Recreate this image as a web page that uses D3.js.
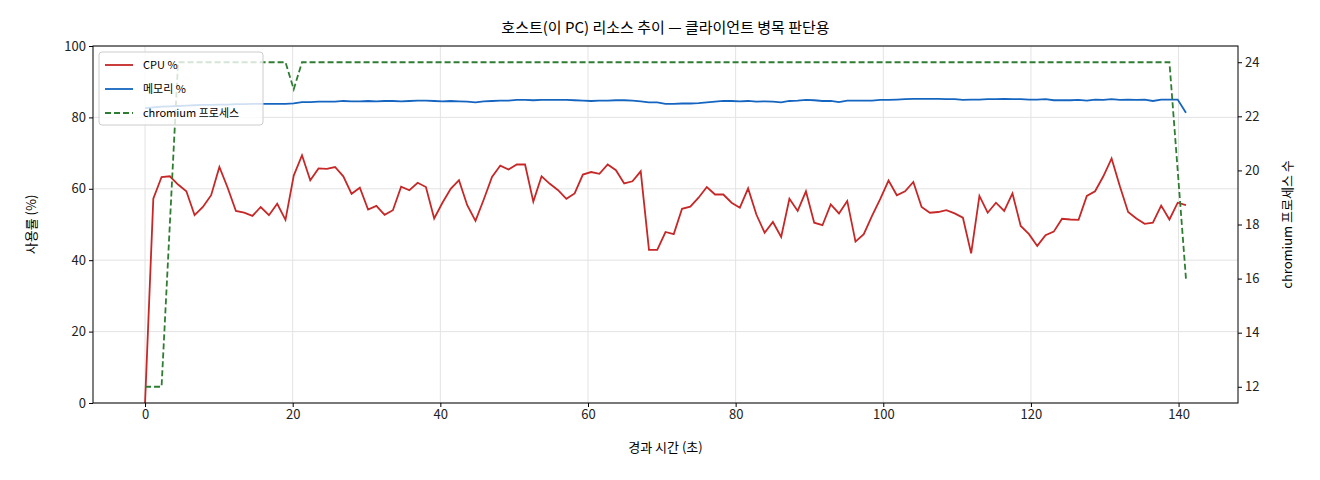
<!DOCTYPE html>
<html><head><meta charset="utf-8">
<script src="https://cdn.jsdelivr.net/npm/d3@7"></script>
<style>body{margin:0;background:#fff}text{font-family:"Noto Sans CJK KR","DejaVu Sans",sans-serif}</style>
</head><body><svg id="c" width="1320" height="480"></svg>
<script>
const cpu=[0,57.2,63.3,63.5,61.2,59.3,52.6,54.9,58.2,66.1,60.3,53.8,53.3,52.4,54.9,52.6,55.8,51.3,63.7,69.4,62.4,65.7,65.6,66.1,63.5,58.6,60.3,54.2,55.2,52.7,54.0,60.6,59.6,61.7,60.5,51.7,56.1,60,62.4,55.4,51.0,57.0,63.3,66.5,65.4,66.8,66.8,56.4,63.5,61.4,59.6,57.2,58.7,64.0,64.7,64.2,66.8,65.2,61.5,62.1,64.9,
42.9,42.9,47.9,47.3,54.4,55.0,57.5,60.5,58.4,58.4,56.1,54.7,60.1,52.8,47.7,50.7,46.5,57.2,53.8,59.3,50.5,49.8,55.6,53.1,56.6,45.2,47.3,52.4,57.2,62.3,58.2,59.3,61.9,54.9,53.3,53.5,54.0,53.1,51.9,41.9,58.0,53.3,56.1,53.8,58.7,49.6,47.3,44.0,47.0,48.0,51.6,51.4,51.3,58.0,59.3,63.5,68.5,60.7,53.5,51.7,50.2,50.5,55.3,51.4,56.1,55.4];
const mem=[82.6,82.8,83.0,83.1,83.2,83.3,83.4,83.5,83.5,83.6,83.6,83.7,83.7,83.8,83.8,83.8,83.8,83.8,83.9,84.3,84.3,84.4,84.4,84.4,84.6,84.5,84.5,84.6,84.5,84.6,84.6,84.5,84.6,84.7,84.7,84.6,84.5,84.6,84.5,84.4,84.2,84.5,84.6,84.7,84.7,84.9,84.9,84.8,84.9,84.9,84.9,84.9,84.8,84.7,84.6,84.7,84.7,84.8,84.8,84.7,84.5,84.2,84.2,83.8,83.8,83.9,83.9,84.0,84.2,84.4,84.6,84.6,84.5,84.6,84.4,84.5,84.4,84.2,84.6,84.7,84.9,84.8,84.6,84.6,84.3,84.7,84.7,84.7,84.7,84.9,84.9,85.0,85.1,85.2,85.2,85.2,85.2,85.1,85.1,84.9,85.0,85.0,85.1,85.1,85.2,85.1,85.1,85.0,85.0,85.1,84.8,84.8,84.8,84.9,84.7,85.0,84.9,85.1,84.9,85.0,84.9,85.0,84.6,85.0,85.0,85.0,81.3];
const chrom=[12,12,12,18,24,24,24,24,24,24,24,24,24,24,24,24,24,24,23,24,24,24,24,24,24,24,24,24,24,24,24,24,24,24,24,24,24,24,24,24,24,24,24,24,24,24,24,24,24,24,24,24,24,24,24,24,24,24,24,24,24,24,24,24,24,24,24,24,24,24,24,24,24,24,24,24,24,24,24,24,24,24,24,24,24,24,24,24,24,24,24,24,24,24,24,24,24,24,24,24,24,24,24,24,24,24,24,24,24,24,24,24,24,24,24,24,24,24,24,24,24,24,24,24,24,20,16];
const xTicks=[0,20,40,60,80,100,120,140], yTicks=[0,20,40,60,80,100], y2Ticks=[12,14,16,18,20,22,24];
const tEnd=141;
const svg=d3.select("#c");
const L=93,R=1238,T=46,B=403;
const x=d3.scaleLinear().domain([-7.05,148.05]).range([L,R]);
const y=d3.scaleLinear().domain([0,100]).range([B,T]);
const y2=d3.scaleLinear().domain([11.4,24.6]).range([B,T]);
const g=svg.append("g");
g.selectAll(".gx").data(xTicks).join("line").attr("x1",d=>x(d)).attr("x2",d=>x(d)).attr("y1",T).attr("y2",B).attr("stroke","#e3e3e3");
g.selectAll(".gy").data(yTicks).join("line").attr("y1",d=>y(d)).attr("y2",d=>y(d)).attr("x1",L).attr("x2",R).attr("stroke","#e3e3e3");
const line=(ys,sc)=>d3.line().x((d,i)=>x(i*tEnd/(ys.length-1))).y(d=>sc(d))(ys);
svg.append("path").attr("d",line(cpu,y)).attr("fill","none").attr("stroke","#c62828").attr("stroke-width",1.8);
svg.append("path").attr("d",line(mem,y)).attr("fill","none").attr("stroke","#1565c0").attr("stroke-width",1.8);
svg.append("path").attr("d",line(chrom,y2)).attr("fill","none").attr("stroke","#2e7d32").attr("stroke-width",1.8).attr("stroke-dasharray","6,3");
const ax=svg.append("g").attr("transform",`translate(0,${B})`).call(d3.axisBottom(x).tickValues(xTicks).tickSize(4).tickSizeOuter(0));
const ay=svg.append("g").attr("transform",`translate(${L},0)`).call(d3.axisLeft(y).tickValues(yTicks).tickSize(4).tickSizeOuter(0));
const ay2=svg.append("g").attr("transform",`translate(${R},0)`).call(d3.axisRight(y2).tickValues(y2Ticks).tickSize(4).tickSizeOuter(0));
[ax,ay,ay2].forEach(a=>{a.select(".domain").remove();a.selectAll("text").attr("font-size",13).attr("fill","#222");});
svg.append("rect").attr("x",L).attr("y",T).attr("width",R-L).attr("height",B-T).attr("fill","none").attr("stroke","#000").attr("stroke-width",1);
svg.append("text").attr("x",(L+R)/2).attr("y",33).attr("text-anchor","middle").attr("font-size",15).text("호스트(이 PC) 리소스 추이 — 클라이언트 병목 판단용");
svg.append("text").attr("x",(L+R)/2).attr("y",452).attr("text-anchor","middle").attr("font-size",13).text("경과 시간 (초)");
svg.append("text").attr("transform",`translate(36,${(T+B)/2}) rotate(-90)`).attr("text-anchor","middle").attr("font-size",13).text("사용률 (%)");
svg.append("text").attr("transform",`translate(1292,${(T+B)/2}) rotate(-90)`).attr("text-anchor","middle").attr("font-size",13).text("chromium 프로세스 수");
const lg=svg.append("g").attr("transform","translate(99,52)");
lg.append("rect").attr("width",164).attr("height",73).attr("rx",3).attr("fill","#fff").attr("fill-opacity",0.8).attr("stroke","#ccc");
const items=[["CPU %","#c62828",null],["메모리 %","#1565c0",null],["chromium 프로세스","#2e7d32","6,3"]];
items.forEach((it,i)=>{const yy=13+i*24;
lg.append("line").attr("x1",6).attr("x2",34).attr("y1",yy).attr("y2",yy).attr("stroke",it[1]).attr("stroke-width",1.8).attr("stroke-dasharray",it[2]);
lg.append("text").attr("x",44).attr("y",yy+4).attr("font-size",11).text(it[0]);});
</script></body></html>
